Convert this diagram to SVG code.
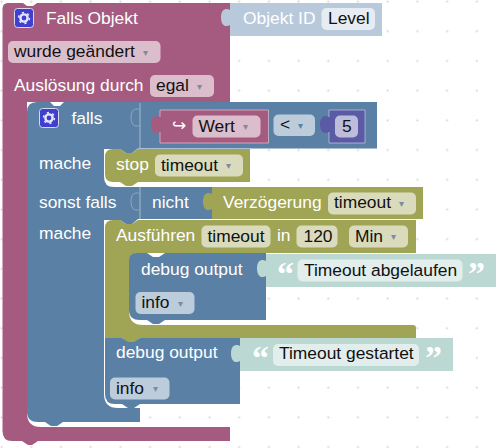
<svg xmlns="http://www.w3.org/2000/svg" width="501" height="448" viewBox="0 0 501 448">
<defs>
<pattern id="grid" x="0" y="0" width="29.7" height="29.7" patternUnits="userSpaceOnUse"><circle cx="1.6" cy="1.6" r="1.1" fill="#d6d6d6"/></pattern>
<symbol id="gear" viewBox="0 0 20 20" overflow="visible"><rect x="0.5" y="0.5" width="19" height="19" rx="3" fill="#3f3fd0" stroke="#d8d8f0" stroke-width="1"/><circle cx="10" cy="10" r="3.6" fill="none" stroke="#e6e6fa" stroke-width="2.4"/><circle cx="10" cy="10" r="5.4" fill="none" stroke="#e6e6fa" stroke-width="1.6" stroke-dasharray="2.2 3.45"/></symbol>
</defs>
<style>
text{font-family:"Liberation Sans",Arial,sans-serif;font-size:17.4px;fill:#fff}
text.f{fill:#111}
.pu{fill:#a55b80}.bl{fill:#5b80a5}.ol{fill:#a0a555}.st{fill:#bcd8d2}.id{fill:#b8c9db}.in{fill:#5b5ba5}
.fpu{fill:#dbbdcc}.fbl{fill:#bdccdb}.fol{fill:#dadbbd}.fst{fill:#e2eeec}.fid{fill:#e6ecf2}.fin{fill:#bdbddb}
text.aw{fill:#7d8ba0;font-size:10px}
.edge{fill:none;stroke:#fff;stroke-opacity:.45;stroke-width:1}
.tabline{fill:none;stroke:#8ea8c2;stroke-width:1}
text.q{font-family:"Liberation Serif",serif;font-size:34px;font-weight:bold}
</style>
<rect width="501" height="448" fill="#fff"/>
<rect width="501" height="448" fill="url(#grid)"/>
<g id="connectors"/>

<g id="node-trigger">
<path class="pu" d="M8 3H23L27 6H33L37 3H230V102H27V413Q27 427 41 427H230V441H38L32 445H28L22 441H12Q2.500 441 2.500 431V9Q2.500 3 8 3Z"/>
<use href="#gear" x="14" y="8" width="20" height="20"/>
<text x="46" y="24">Falls Objekt</text>
<rect class="fpu" x="8" y="41" width="152.500" height="22" rx="5"/>
<text class="f" x="14" y="57">wurde geändert</text><text class="aw" x="143" y="56">▾</text>
<text x="14" y="91">Auslösung durch</text>
<rect class="fpu" x="150" y="75" width="64" height="22" rx="5"/>
<text class="f" x="156" y="91">egal</text><text class="aw" x="197" y="90">▾</text>
</g>

<g id="node-objekt-id">
<path class="id" d="M230 3H382V36H230V25c-3,2 -9,2 -9,-7.500c0,-9.500 6,-9.500 9,-7.500Z"/>
<text x="243" y="24">Objekt ID</text>
<rect class="fid" x="321.500" y="8" width="53.500" height="22" rx="5"/>
<text class="f" x="328" y="24">Level</text>
</g>

<g id="node-falls">
<path class="bl" d="M37 102H50L54 106H60L64 102H377V148.500H138L132 153H126L120 149H104V177Q104 187 114 187H212V219H138L132 224H126L120 220H104V394Q104 408 118 408H140V422H63L57 426H51L45 422H38Q27 422 27 412V112Q27 102 37 102Z"/>
<use href="#gear" x="39" y="108" width="20" height="20"/>
<text x="71.500" y="124">falls</text>
<text x="39" y="169">mache</text>
<text x="39" y="207.500">sonst falls</text>
<text x="39" y="239">mache</text>
<path class="edge" d="M140 103V148"/>
<path class="tabline" d="M140 125c-3,2 -9,2 -9,-7.500c0,-9.500 6,-9.500 9,-7.500"/>
</g>

<g id="node-wert">
<path class="pu" d="M160 110H268.500V143H160V132c-3,2 -9,2 -9,-7.500c0,-9.500 6,-9.500 9,-7.500Z"/>
<path class="edge" d="M160 117V110H268.500V143H160V132"/>
<text x="172" y="131">↪</text>
<rect class="fpu" x="192.500" y="115.500" width="68" height="22" rx="5"/>
<text class="f" x="198.500" y="131.500">Wert</text><text class="aw" x="243" y="130">▾</text>
</g>

<g id="node-op">
<rect class="fbl" x="273.500" y="114.500" width="41.500" height="21.500" rx="5"/>
<text class="f" x="280" y="130">&lt;</text><text class="aw" style="fill:#5b80a5" x="298" y="129">▾</text>
</g>

<g id="node-number">
<path class="in" d="M329 110H365V143H329V132c-3,2 -9,2 -9,-7.500c0,-9.500 6,-9.500 9,-7.500Z"/>
<path class="edge" d="M329 117V110H365V143H329V132"/>
<rect class="fin" x="335" y="115.500" width="23" height="22" rx="5"/>
<text class="f" x="342" y="131.500">5</text>
</g>

<g id="node-stop">
<path class="ol" d="M113 149H120L126 153H132L138 149H250V182H138L132 186H126L120 182H113Q105 182 105 174V157Q105 149 113 149Z"/>
<text x="116" y="170">stop</text>
<rect class="fol" x="155" y="154.500" width="88" height="22" rx="5"/>
<text class="f" x="161" y="170.500">timeout</text><text class="aw" x="226" y="169">▾</text>
</g>

<g id="node-nicht">
<path class="edge" d="M140 187V219"/>
<path class="tabline" d="M140 209c-3,2 -9,2 -9,-7.500c0,-9.500 6,-9.500 9,-7.500"/>
<text x="152" y="207.500">nicht</text>
</g>

<g id="node-verzoegerung">
<path class="ol" d="M212 187H423V219H212V209c-3,2 -9,2 -9,-7.500c0,-9.500 6,-9.500 9,-7.500Z"/>
<text x="223" y="207.500">Verzögerung</text>
<rect class="fol" x="328" y="192.500" width="88" height="22" rx="5"/>
<text class="f" x="334" y="208">timeout</text><text class="aw" x="399" y="207">▾</text>
</g>

<g id="node-ausfuehren">
<path class="ol" d="M113 220H120L126 224H132L138 220H416V253H140Q129 253 129 263V311Q129 325 143 325H413Q416 325 416 328V338H140L134 343H128L122 338H105V228Q105 220 113 220Z"/>
<text x="116" y="241">Ausführen</text>
<rect class="fol" x="201.500" y="225.500" width="69" height="22" rx="5"/>
<text class="f" x="207.500" y="241.500">timeout</text>
<text x="277" y="241">in</text>
<rect class="fol" x="296.500" y="225.500" width="41" height="22" rx="5"/>
<text class="f" x="303.500" y="241.500">120</text>
<rect class="fol" x="349" y="225.500" width="59" height="22" rx="5"/>
<text class="f" x="355" y="241.500">Min</text><text class="aw" x="391" y="240">▾</text>
</g>

<g id="node-debug-1">
<path class="bl" d="M137 253H147L153 257H159L165 253H266V320H165L159 324H153L147 320H140Q129 320 129 310V261Q129 253 137 253Z"/>
<text x="141" y="275">debug output</text>
<rect class="fbl" x="135.500" y="292" width="59" height="22" rx="5"/>
<text class="f" x="141.500" y="308">info</text><text class="aw" x="178" y="307">▾</text>
</g>

<g id="node-string-1">
<path class="st" d="M266 254H496V287H266V276c-3,2 -9,2 -9,-7.500c0,-9.500 6,-9.500 9,-7.500Z"/>
<text class="q" x="277" y="285">“</text>
<rect class="fst" x="297.500" y="259.500" width="165" height="22" rx="5"/>
<text class="f" x="304" y="275.500">Timeout abgelaufen</text>
<text class="q" x="468" y="285">”</text>
</g>

<g id="node-debug-2">
<path class="bl" d="M105 338H122L128 342H134L140 338H240V404H140L134 408H128L122 404H115Q105 404 105 394Z"/>
<text x="116" y="358">debug output</text>
<rect class="fbl" x="110" y="377.500" width="59.500" height="22" rx="5"/>
<text class="f" x="116" y="393.500">info</text><text class="aw" x="153" y="392">▾</text>
</g>

<g id="node-string-2">
<path class="st" d="M240 338H453V371H240V361c-3,2 -9,2 -9,-7.500c0,-9.500 6,-9.500 9,-7.500Z"/>
<text class="q" x="252" y="369">“</text>
<rect class="fst" x="273" y="344" width="146" height="22" rx="5"/>
<text class="f" x="279" y="359">Timeout gestartet</text>
<text class="q" x="425" y="369">”</text>
</g>
</svg>
